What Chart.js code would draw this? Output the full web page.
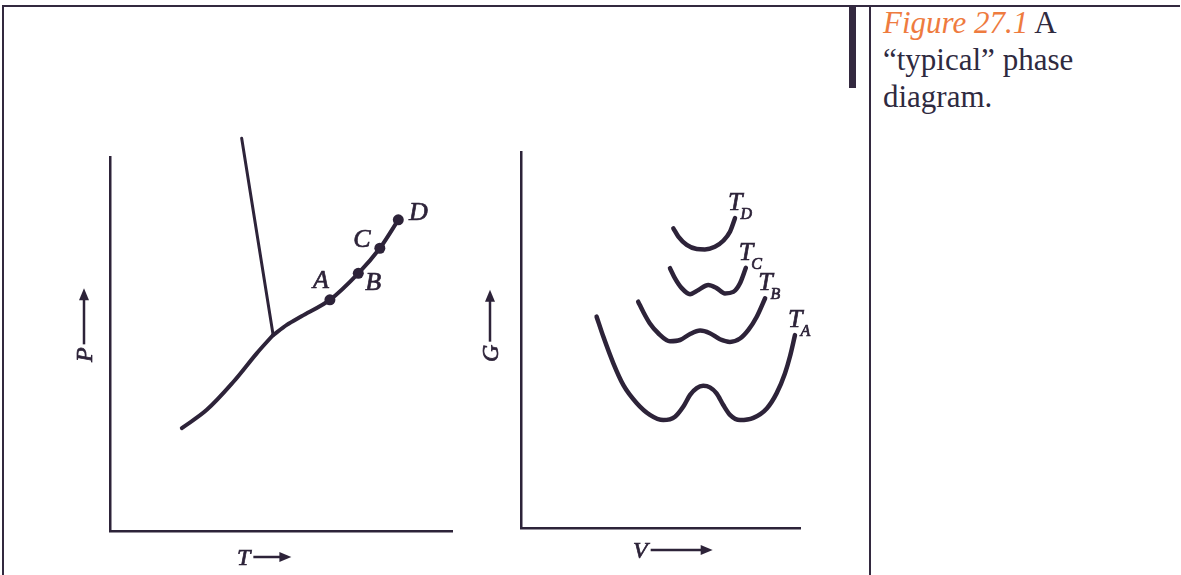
<!DOCTYPE html>
<html>
<head>
<meta charset="utf-8">
<title>Phase diagram</title>
<script src="https://cdn.jsdelivr.net/npm/chart.js@4.4.1/dist/chart.umd.min.js"></script>
<style>
    html, body { margin: 0; padding: 0; background: #fff; }
    body {
        width: 1181px; height: 575px; position: relative; overflow: hidden;
        font-family: "Liberation Serif", "Times New Roman", serif;
    }
    .rule { position: absolute; background: #33293f; }
    .frame-top { left: 2px; top: 5px; width: 1178px; height: 2px; }
    .frame-left { left: 2px; top: 5px; width: 2px; height: 570px; }
    .divider { left: 869px; top: 5px; width: 2px; height: 570px; }
    .bar { left: 849px; top: 5px; width: 7px; height: 83px; }
    .caption {
        position: absolute; left: 883px; top: 4px;
        font-size: 31px; line-height: 37px; color: #2f2a3f; white-space: nowrap;
    }
    .caption em { color: #ee7b3f; }
    canvas { position: absolute; }
    #ptChart { left: 40px; top: 120px; }
    #gvChart { left: 460px; top: 110px; }
</style>
</head>
<body>
<div class="rule frame-top"></div>
<div class="rule frame-left"></div>
<div class="rule bar"></div>
<div class="rule divider"></div>
<div class="caption"><em>Figure 27.1</em> A<br>“typical” phase<br>diagram.</div>

<canvas id="ptChart" width="440" height="455"></canvas>
<canvas id="gvChart" width="385" height="465"></canvas>

<script>
const INK = '#2d2339';
const LABEL_FONT = '"Liberation Serif", "DejaVu Serif", serif';

// ---- P–T diagram (arbitrary units 0..100) ----
const fusionT = [38.5, 47.7];
const fusionP = [105.0, 52.4];
const sublimationT = [21.0, 28.3, 36.1, 42.9, 47.7];
const sublimationP = [27.5, 32.4, 39.9, 47.5, 52.4];
const vaporT = [47.7, 51.7, 56.0, 64.3, 72.6, 78.9, 84.3];
const vaporP = [52.4, 55.1, 57.4, 61.8, 68.9, 75.6, 83.2];
const stateNames = ['A', 'B', 'C', 'D'];
const stateT = [64.3, 72.6, 78.9, 84.3];
const stateP = [61.8, 68.9, 75.6, 83.2];

// ---- G–V curves, one per temperature ----
const isothermNames = ['D', 'C', 'B', 'A'];
const tdV = [54.6, 56.4, 59.4, 63.0, 65.9, 69.5, 72.5, 74.9, 76.7];
const tdG = [79.7, 77.5, 75.3, 74.2, 74.1, 74.8, 76.4, 78.8, 82.4];
const tcV = [53.4, 55.2, 57.6, 60.6, 63.6, 67.1, 70.1, 73.1, 76.1, 78.5, 80.6];
const tcG = [69.1, 66.4, 63.8, 62.2, 63.3, 64.6, 63.8, 62.4, 62.8, 65.1, 69.2];
const tbV = [42.0, 43.8, 46.2, 49.2, 53.4, 57.0, 60.6, 64.2, 67.7, 71.3, 74.9, 78.5, 81.5, 84.5, 87.5];
const tbG = [60.2, 57.5, 54.4, 51.8, 49.7, 50.0, 51.6, 52.5, 51.8, 50.2, 49.5, 50.4, 52.7, 56.2, 61.1];
const taV = [27.1, 29.5, 33.1, 36.7, 41.5, 46.2, 51.0, 55.2, 58.2, 60.6, 63.0, 65.3, 67.7, 70.1,
             72.5, 74.9, 78.5, 83.3, 88.1, 91.6, 94.6, 96.4, 98.2];
const taG = [56.2, 50.9, 43.8, 38.0, 33.2, 30.1, 28.7, 29.6, 32.3, 35.4, 37.2, 37.8, 37.4, 35.8,
             32.7, 30.1, 28.7, 29.3, 31.8, 35.8, 41.1, 45.6, 51.3];

function toPoints(xs, ys) {
    return xs.map((x, i) => ({ x, y: ys[i] }));
}

function curve(xs, ys, width, extra) {
    return Object.assign({
        data: toPoints(xs, ys),
        showLine: true,
        borderColor: INK,
        borderWidth: width,
        borderCapStyle: 'round',
        borderJoinStyle: 'round',
        pointRadius: 0,
        cubicInterpolationMode: 'monotone',
        clip: false
    }, extra || {});
}

function axes() {
    const one = () => ({
        type: 'linear', min: 0, max: 100,
        grid: { display: false, drawTicks: false },
        border: { display: true, color: INK, width: 2.5 },
        ticks: { display: false }
    });
    return { x: Object.assign(one(), { position: 'bottom' }), y: Object.assign(one(), { position: 'left' }) };
}

// italic letter with a hairline outline so it matches the weight of the curves
function inkText(ctx, text, x, y, size) {
    ctx.font = 'italic ' + size + 'px ' + LABEL_FONT;
    ctx.lineWidth = 0.7;
    ctx.fillText(text, x, y);
    ctx.strokeText(text, x, y);
}

// Letter + arrow along the axis; the y tag is turned to read upward
function drawAxisTag(ctx, tag, area) {
    ctx.save();
    ctx.translate(area.left + tag.dx, area.bottom + tag.dy);
    if (tag.axis === 'y') ctx.rotate(-Math.PI / 2);
    ctx.textAlign = 'left';
    ctx.textBaseline = 'alphabetic';
    inkText(ctx, tag.text, 0, 0, 24);
    const x0 = ctx.measureText(tag.text).width + 3;
    const x1 = x0 + tag.len;
    const mid = -8;
    ctx.lineWidth = 2.5;
    ctx.beginPath();
    ctx.moveTo(x0, mid);
    ctx.lineTo(x1 - 8, mid);
    ctx.stroke();
    ctx.beginPath();
    ctx.moveTo(x1, mid);
    ctx.lineTo(x1 - 12, mid - 5);
    ctx.lineTo(x1 - 12, mid + 5);
    ctx.closePath();
    ctx.fill();
    ctx.restore();
}

const inkLabels = {
    id: 'inkLabels',
    afterDatasetsDraw(chart, args, opts) {
        const { ctx, chartArea } = chart;
        ctx.save();
        ctx.fillStyle = INK;
        ctx.strokeStyle = INK;

        chart.data.datasets.forEach((ds, di) => {
            const meta = chart.getDatasetMeta(di);
            // named state points (A, B, C, D)
            if (ds.tags) {
                ctx.textAlign = 'center';
                ctx.textBaseline = 'alphabetic';
                meta.data.forEach((pt, i) => {
                    const [ox, oy] = ds.tagOffsets[i];
                    inkText(ctx, ds.tags[i], pt.x + ox, pt.y + oy + 8, 26);
                });
            }
            // isotherm label T with subscript at the curve's right end
            if (ds.isotherm) {
                const end = meta.data[meta.data.length - 1];
                const tx = end.x - 7, ty = end.y - 8;
                ctx.textAlign = 'left';
                ctx.textBaseline = 'alphabetic';
                inkText(ctx, 'T', tx, ty, 26);
                const w = ctx.measureText('T').width;
                inkText(ctx, ds.isotherm, tx + w - 2, ty + 9, 16);
            }
        });

        (opts.axisTags || []).forEach(tag => drawAxisTag(ctx, tag, chartArea));
        ctx.restore();
    }
};

function baseOptions(padding, axisTags) {
    return {
        responsive: false,
        animation: false,
        events: [],
        layout: { padding },
        scales: axes(),
        plugins: {
            legend: { display: false },
            tooltip: { enabled: false },
            inkLabels: { axisTags }
        }
    };
}

// P–T chart
new Chart(document.getElementById('ptChart'), {
    type: 'scatter',
    data: {
        datasets: [
            curve(fusionT, fusionP, 3),
            curve(sublimationT, sublimationP, 4, { cubicInterpolationMode: 'default', tension: 0.35 }),
            curve(vaporT, vaporP, 4, { cubicInterpolationMode: 'default', tension: 0.3 }),
            {
                data: toPoints(stateT, stateP),
                showLine: false,
                pointRadius: 5.5,
                pointBackgroundColor: INK,
                pointBorderWidth: 0,
                clip: false,
                tags: stateNames,
                tagOffsets: [[-9, -20], [15, 9], [-18, -9], [20, -8]]
            }
        ]
    },
    options: baseOptions(
        { left: 70, top: 37, right: 28, bottom: 44 },
        [
            { axis: 'x', text: 'T', dx: 127, dy: 34, len: 38 },
            { axis: 'y', text: 'P', dx: -18, dy: -169, len: 56 }
        ]
    ),
    plugins: [inkLabels]
});

// G–V chart
const isotherms = [[tdV, tdG], [tcV, tcG], [tbV, tbG], [taV, taG]];
new Chart(document.getElementById('gvChart'), {
    type: 'scatter',
    data: {
        datasets: isotherms.map(([v, g], i) => curve(v, g, 4.5, { isotherm: isothermNames[i] }))
    },
    options: baseOptions(
        { left: 61, top: 42, right: 45, bottom: 47 },
        [
            { axis: 'x', text: 'V', dx: 112, dy: 30, len: 62 },
            { axis: 'y', text: 'G', dx: -23, dy: -166, len: 52 }
        ]
    ),
    plugins: [inkLabels]
});
</script>
</body>
</html>
